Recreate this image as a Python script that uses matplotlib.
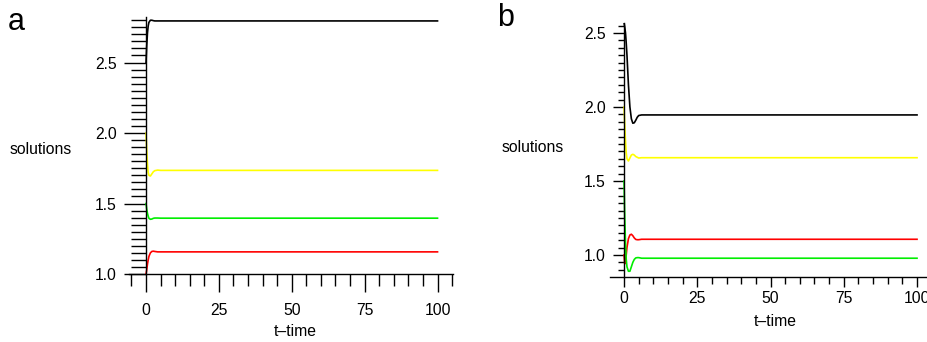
import matplotlib
matplotlib.use('Agg')
import matplotlib.pyplot as plt
from matplotlib.ticker import MultipleLocator

plt.rcParams['font.family'] = ['Liberation Sans', 'DejaVu Sans']

# ---- panel a data ----
t_a = [0, 0.25, 0.5, 0.75, 1, 1.5, 2, 2.5, 3, 4, 5, 6, 8, 100]
black_a = [2.50, 2.62, 2.71, 2.76, 2.785, 2.80, 2.80, 2.797, 2.795, 2.795, 2.795, 2.795, 2.795, 2.795]
yellow_a = [2.00, 1.88, 1.78, 1.72, 1.70, 1.695, 1.71, 1.725, 1.733, 1.737, 1.735, 1.735, 1.735, 1.735]
green_a = [1.50, 1.46, 1.43, 1.41, 1.395, 1.388, 1.39, 1.395, 1.397, 1.397, 1.396, 1.396, 1.396, 1.396]
red_a = [1.00, 1.03, 1.07, 1.10, 1.125, 1.15, 1.16, 1.162, 1.16, 1.157, 1.157, 1.157, 1.157, 1.157]

# ---- panel b data ----
t_b = [0, 0.25, 0.5, 0.75, 1, 1.5, 2, 2.5, 3, 3.5, 4, 4.5, 5, 6, 8, 100]
black_b = [2.57, 2.54, 2.50, 2.43, 2.35, 2.15, 2.00, 1.92, 1.89, 1.893, 1.91, 1.93, 1.942, 1.946, 1.946, 1.946]
yellow_b = [2.00, 1.88, 1.77, 1.69, 1.65, 1.635, 1.655, 1.675, 1.68, 1.675, 1.665, 1.66, 1.655, 1.657, 1.657, 1.657]
red_b = [1.00, 0.94, 0.95, 1.00, 1.05, 1.11, 1.135, 1.14, 1.13, 1.115, 1.105, 1.103, 1.103, 1.106, 1.106, 1.106]
green_b = [1.50, 1.25, 1.08, 0.97, 0.92, 0.89, 0.89, 0.92, 0.95, 0.97, 0.98, 0.982, 0.982, 0.978, 0.978, 0.978]

x_major = [0, 25, 50, 75, 100]
x_labels = ['0', '25', '50', '75', '100']

col = {'black': 'black', 'yellow': '#ffff00', 'green': '#00ee00', 'red': '#ff0000'}


def style_axis(ax, xlim, ylim, ymaj, ylen, xlen, ypad, xpad):
    ax.set_xlim(*xlim)
    ax.set_ylim(*ylim)
    ax.spines['top'].set_visible(False)
    ax.spines['right'].set_visible(False)
    ax.spines['left'].set_position(('data', 0))
    for s in ('left', 'bottom'):
        ax.spines[s].set_linewidth(1.0)
    ax.set_xticks(x_major)
    ax.set_xticklabels(x_labels)
    ax.xaxis.set_minor_locator(MultipleLocator(5))
    ax.yaxis.set_major_locator(MultipleLocator(ymaj))
    ax.yaxis.set_minor_locator(MultipleLocator(0.05))
    ax.tick_params(axis='y', which='major', direction='out', length=ylen[0], width=1.0,
                   labelsize=11.3, pad=ypad)
    ax.tick_params(axis='y', which='minor', direction='out', length=ylen[1], width=1.0)
    ax.tick_params(axis='x', which='major', direction='out', length=xlen[0], width=1.0,
                   labelsize=11.3, pad=xpad)
    ax.tick_params(axis='x', which='minor', direction='out', length=xlen[1], width=1.0)
    ax.yaxis.set_major_formatter(matplotlib.ticker.FormatStrFormatter('%.1f'))


fig = plt.figure(figsize=(9.28, 3.42), dpi=100)

ax1 = fig.add_axes([0.1385, 0.1988, 0.3493, 0.7503])
ax1.plot(t_a, black_a, color=col['black'], lw=1.2)
ax1.plot(t_a, yellow_a, color=col['yellow'], lw=1.2)
ax1.plot(t_a, green_a, color=col['green'], lw=1.2)
ax1.plot(t_a, red_a, color=col['red'], lw=1.2)
style_axis(ax1, (-6, 105.2), (1.0, 2.82), 0.5, (16, 11), (13, 8.6), 5, 8)
ax1.set_xticks(list(range(-5, 106, 5)), minor=True)

ax2 = fig.add_axes([0.6573, 0.190, 0.3416, 0.7436])
ax2.plot(t_b, black_b, color=col['black'], lw=1.2)
ax2.plot(t_b, yellow_b, color=col['yellow'], lw=1.2)
ax2.plot(t_b, red_b, color=col['red'], lw=1.2)
ax2.plot(t_b, green_b, color=col['green'], lw=1.2)
style_axis(ax2, (-4.8, 103.4), (0.851, 2.569), 0.5, (8, 4.3), (7.2, 5), 5, 3)

# labels
fig.text(41 / 928, 1 - 150 / 342, 'solutions', ha='center', va='center', fontsize=11.3)
fig.text(533 / 928, 1 - 147 / 342, 'solutions', ha='center', va='center', fontsize=11.3)
fig.text(295 / 928, 1 - 332 / 342, 't\u2013time', ha='center', va='center', fontsize=11.3)
fig.text(775 / 928, 1 - 321 / 342, 't\u2013time', ha='center', va='center', fontsize=11.3)
fig.text(8 / 928, 1 - 22 / 342, 'a', ha='left', va='center', fontsize=22)
fig.text(497 / 928, 1 - 18 / 342, 'b', ha='left', va='center', fontsize=22)

fig.savefig('out.png', dpi=100)
